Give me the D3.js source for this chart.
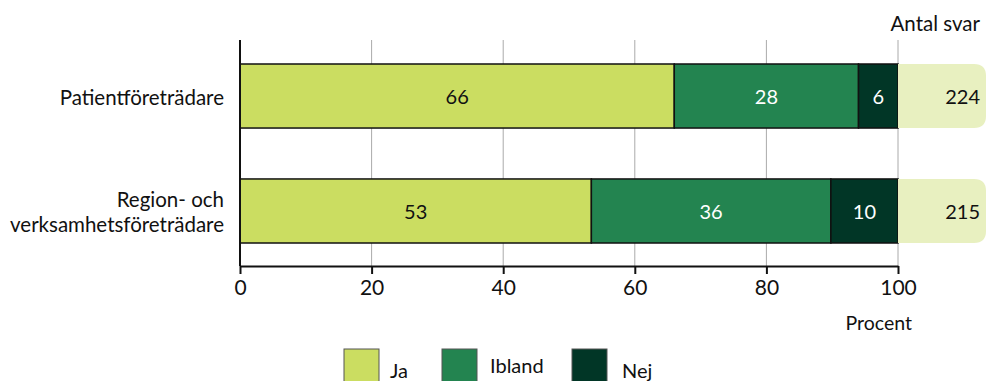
<!DOCTYPE html>
<html>
<head>
<meta charset="utf-8">
<script src="https://cdn.jsdelivr.net/npm/d3@7"></script>
<style>
  body { margin: 0; background: #fff; }
  svg text { font-family: "Lato", "Noto Sans", sans-serif; }
</style>
</head>
<body>
<svg id="chart" width="987" height="381"></svg>
<script>
// Answer shares (percent) per respondent group
const categories = ["Patientföreträdare", "Region- och\nverksamhetsföreträdare"];
const seriesNames = ["Ja", "Ibland", "Nej"];
const ja = [66, 53.4];
const ibland = [28, 36.4];
const nej = [6, 10.2];
const antalSvar = [224, 215];
const xTicks = [0, 20, 40, 60, 80, 100];

const colors = ["#cbdd61", "#238450", "#013626"];
const textColors = ["#111", "#fff", "#fff"];

const svg = d3.select("#chart");

const x = d3.scaleLinear().domain([0, 100]).range([240, 898]);
const y = d3.scaleBand().domain(categories).range([64, 243]).paddingInner(0.443).paddingOuter(0);

// grid lines
svg.append("g").selectAll("line").data(xTicks.slice(1)).join("line")
  .attr("x1", d => x(d)).attr("x2", d => x(d))
  .attr("y1", 40).attr("y2", 266)
  .attr("stroke", "#aaa").attr("stroke-width", 1);

// stacked data
const rows = categories.map((c, i) => ({ cat: c, Ja: ja[i], Ibland: ibland[i], Nej: nej[i] }));
const stacked = d3.stack().keys(seriesNames)(rows);

const gBars = svg.append("g");
stacked.forEach((layer, k) => {
  const g = gBars.append("g");
  g.selectAll("rect").data(layer).join("rect")
    .attr("x", d => x(d[0]))
    .attr("width", d => x(d[1]) - x(d[0]))
    .attr("y", d => y(d.data.cat))
    .attr("height", y.bandwidth())
    .attr("fill", colors[k])
    .attr("stroke", "#111").attr("stroke-width", 1.5);
  g.selectAll("text").data(layer).join("text")
    .attr("x", d => (x(d[0]) + x(d[1])) / 2)
    .attr("y", d => y(d.data.cat) + y.bandwidth() / 2)
    .attr("dy", "0.38em")
    .attr("text-anchor", "middle")
    .attr("font-size", 20)
    .attr("fill", textColors[k])
    .text(d => Math.round(d[1] - d[0]));
});

// answer count boxes
const boxW = 88, r = 12;
const gBox = svg.append("g");
categories.forEach((c, i) => {
  const x0 = x(100), y0 = y(c), h = y.bandwidth();
  const p = `M${x0},${y0} H${x0 + boxW - r} Q${x0 + boxW},${y0} ${x0 + boxW},${y0 + r} V${y0 + h - r} Q${x0 + boxW},${y0 + h} ${x0 + boxW - r},${y0 + h} H${x0} Z`;
  gBox.append("path").attr("d", p).attr("fill", "#e8f0c0");
  gBox.append("text")
    .attr("x", x0 + boxW - 6).attr("y", y0 + h / 2).attr("dy", "0.38em")
    .attr("text-anchor", "end").attr("font-size", 20).attr("fill", "#111")
    .text(antalSvar[i]);
});
svg.append("text").attr("x", 980).attr("y", 31).attr("text-anchor", "end")
  .attr("font-size", 20.5).attr("fill", "#111").text("Antal svar");

// y axis line
svg.append("line").attr("x1", 240).attr("x2", 240).attr("y1", 40).attr("y2", 266)
  .attr("stroke", "#111").attr("stroke-width", 2);

// category labels
categories.forEach(c => {
  const lines = c.split("\n");
  const cy = y(c) + y.bandwidth() / 2;
  const lh = 25;
  lines.forEach((ln, j) => {
    svg.append("text")
      .attr("x", 224)
      .attr("y", cy + (j - (lines.length - 1) / 2) * lh + 1)
      .attr("dy", "0.38em")
      .attr("text-anchor", "end")
      .attr("font-size", 20.5)
      .attr("fill", "#111")
      .text(ln);
  });
});

// x axis
const xAxis = svg.append("g").attr("transform", "translate(0,266)")
  .call(d3.axisBottom(x).tickValues(xTicks).tickSize(8).tickPadding(6).tickSizeOuter(0));
xAxis.select(".domain").attr("stroke", "#111").attr("stroke-width", 2);
xAxis.selectAll(".tick line").attr("stroke", "#111").attr("stroke-width", 2);
xAxis.selectAll(".tick text").attr("font-size", 21).attr("fill", "#111")
  .attr("font-family", "Lato, 'Noto Sans', sans-serif");

svg.append("text").attr("x", 912).attr("y", 330).attr("text-anchor", "end")
  .attr("font-size", 19.5).attr("fill", "#111").text("Procent");

// legend
const legendX = [344, 442, 572];
const legendTextX = [390, 490, 622];
const legendBase = [378, 373, 378];
seriesNames.forEach((s, k) => {
  svg.append("rect").attr("x", legendX[k]).attr("y", 349).attr("width", 35).attr("height", 40)
    .attr("fill", colors[k]).attr("stroke", "#555").attr("stroke-width", 1);
  svg.append("text").attr("x", legendTextX[k]).attr("y", legendBase[k])
    .attr("font-size", 20).attr("fill", "#111").text(s);
});
</script>
</body>
</html>
